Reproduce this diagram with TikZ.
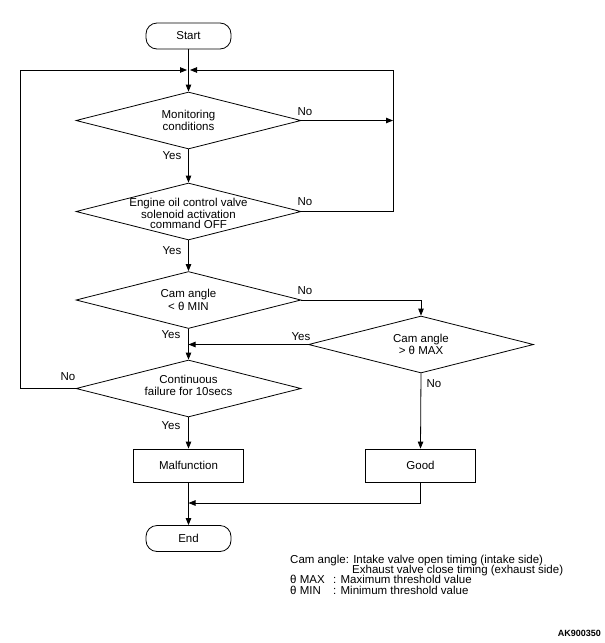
\documentclass[tikz,border=0pt]{standalone}
\usepackage{fontspec}
\setmainfont{Liberation Sans}
\usetikzlibrary{shapes.geometric,arrows.meta}

\begin{document}
\begin{tikzpicture}[x=1pt,y=-1pt,
    every node/.style={font=\fontsize{11.5}{12.5}\selectfont},
    term/.style={draw,thick,rounded corners=11pt,minimum width=85pt,minimum height=26pt,inner sep=0pt},
    box/.style={draw,thick,minimum width=110pt,minimum height=33pt,inner sep=0pt},
    dec/.style={draw,thick,diamond,minimum width=225pt,minimum height=57pt,inner sep=0pt},
    arr/.style={thick,-{Triangle[length=7pt,width=5.5pt]}},
    legend/.style={anchor=base west,inner sep=0pt}]
        \useasboundingbox (0,0) rectangle (605,643);

        % Define the coordinates of the loop corners
        \coordinate (jl) at (187,70);
        \coordinate (jr) at (190,70);
        \coordinate (ll) at (20,70);
        \coordinate (rr) at (393,70);
        \coordinate (jb) at (188.5,503);

        % Draw the start and end
        \node[term] (start) at (188.5,36) {Start};
        \node[term] (end) at (188.5,538.5) {End};

        % Draw the decisions
        \node[dec,label={[align=center]center:Monitoring\\conditions}] (mon) at (188.5,120.5) {};
        \node[dec,label={[align=center,font=\fontsize{11.5}{10.5}\selectfont,yshift=-2pt]center:Engine oil control valve\\solenoid activation\\command OFF}] (cmd) at (188.5,211.5) {};
        \node[dec,label={[align=center]center:Cam angle\\< θ MIN}] (low) at (188.5,300) {};
        \node[dec,label={[align=center,font=\fontsize{11.5}{11.5}\selectfont]center:Cam angle\\> θ MAX}] (high) at (421,344.5) {};
        \node[dec,label={[align=center,yshift=3pt]center:Continuous\\failure for 10secs}] (cont) at (188.5,388.5) {};

        % Draw the results
        \node[box] (mal) at (188.5,465.5) {Malfunction};
        \node[box] (good) at (420.5,465.5) {Good};

        % Draw the arrows
        \draw[arr] (start.south) -- (mon.north);
        \draw[arr] (mon.south) -- (cmd.north);
        \draw[arr] (cmd.south) -- (low.north);
        \draw[arr] (low.south) -- (cont.north);
        \draw[arr] (cont.south) -- (mal.north);
        \draw[arr] (mal.south) -- (end.north);
        \draw[arr] (cont.west) -| (ll) -- (jl);
        \draw[arr] (mon.east) -- (mon.east -| rr);
        \draw[arr] (cmd.east) -| (rr) -- (jr);
        \draw[arr] (low.east) -| (high.north);
        \draw[arr] (high.west) -- (high.west -| low.south);
        \draw[arr] (high.south) -- (good.north);
        \draw[arr] (good.south) |- (jb);

        % Label the branches
        \node (nmon) at (305,112) {No};
        \node (ymon) at (172,156) {Yes};
        \node (ncmd) at (305,202) {No};
        \node (ycmd) at (172,251) {Yes};
        \node (nlow) at (305,291) {No};
        \node (ylow) at (171,335) {Yes};
        \node (yhigh) at (301,337) {Yes};
        \node (nhigh) at (434,384) {No};
        \node (ncont) at (68,377) {No};
        \node (ycont) at (171,426) {Yes};

        % Label the legend
        \node[legend] (leg1) at (290,563) {Cam angle: Intake valve open timing (intake side)};
        \node[legend] (leg2) at (352,573.5) {Exhaust valve close timing (exhaust side)};
        \node[legend] (leg3) at (290,583.5) {θ MAX};
        \node[legend] (leg3b) at (333,583.5) {: Maximum threshold value};
        \node[legend] (leg4) at (290,594) {θ MIN};
        \node[legend] (leg4b) at (333,594) {: Minimum threshold value};
        \node[anchor=base east,inner sep=0pt,font=\fontsize{9}{10}\selectfont\bfseries] (code) at (601,636.5) {AK900350};
    \end{tikzpicture}
\end{document}
